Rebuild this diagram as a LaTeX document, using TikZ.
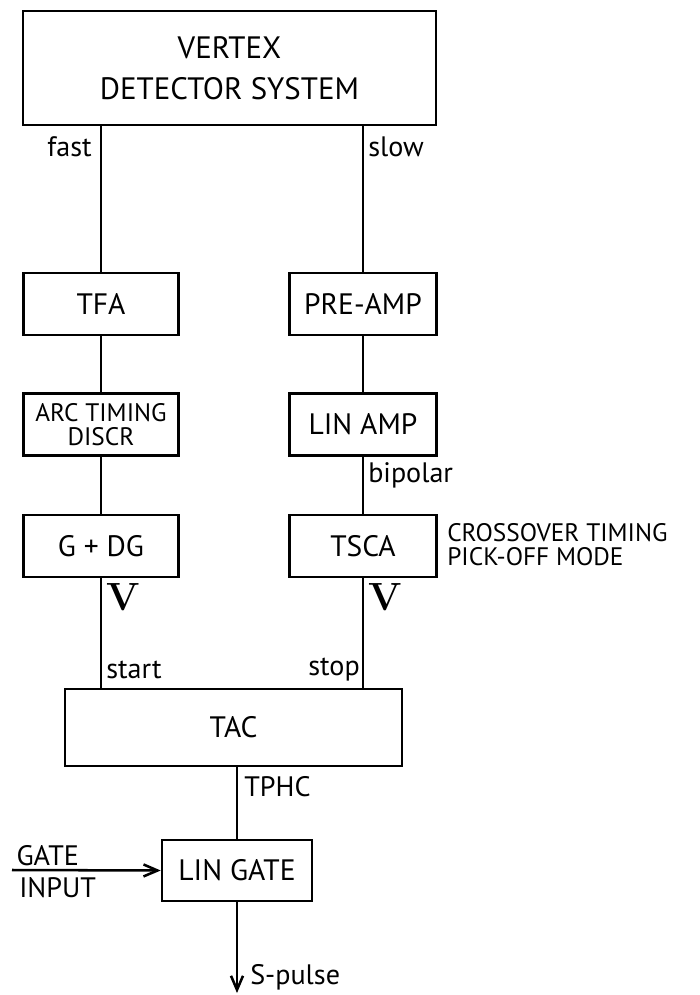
\documentclass[tikz,border=0pt]{standalone}
\usepackage{fontspec}
\setsansfont{PT Sans}
\usepackage{tikz}
\usetikzlibrary{arrows.meta, positioning}

\begin{document}
\begin{tikzpicture}[
    x=0.025cm, y=-0.025cm,
    box/.style={rectangle, draw, line width=1.8pt, inner sep=0pt, align=center,
        font=\sffamily\fontsize{21}{24}\selectfont},
    lbox/.style={box, minimum width=3.875cm, minimum height=1.55cm},
    rbox/.style={box, minimum width=3.675cm, minimum height=1.55cm},
    wire/.style={line width=1.8pt},
    arrow/.style={-{Straight Barb[length=3.5mm, width=3mm]}, line width=1.8pt},
    label/.style={inner sep=0pt, font=\sffamily\fontsize{20}{22}\selectfont},
    pulse/.style={inner sep=0pt, font=\rmfamily\bfseries\fontsize{28}{28}\selectfont}
]
\useasboundingbox (0,0) rectangle (699,995);

% Detector (top)
\node[box, minimum width=10.325cm, minimum height=2.85cm,
      font=\sffamily\fontsize{22}{29}\selectfont] (vds) at (229.5, 68) {VERTEX\\DETECTOR SYSTEM};

% Fast branch (left)
\node[lbox] (tfa) at (101, 304) {TFA};
\node[lbox, font=\sffamily\fontsize{18}{17}\selectfont] (arc) at (101, 424.5) {ARC TIMING\\DISCR};
\node[lbox] (gdg) at (101, 546) {G + DG};

% Slow branch (right)
\node[rbox] (preamp) at (363, 304) {PRE-AMP};
\node[rbox] (linamp) at (363, 424.5) {LIN AMP};
\node[rbox] (tsca) at (363, 546) {TSCA};

% TAC and gate
\node[box, minimum width=8.425cm, minimum height=1.925cm] (tac) at (233.5, 727.5) {TAC};
\node[box, minimum width=3.75cm, minimum height=1.525cm] (lingate) at (237, 870.5) {LIN GATE};

% Connections
\draw[wire] (vds.south -| tfa.north) -- (tfa.north);
\draw[wire] (tfa) -- (arc);
\draw[wire] (arc) -- (gdg);
\draw[wire] (gdg.south) -- (gdg.south |- tac.north);
\draw[wire] (vds.south -| preamp.north) -- (preamp.north);
\draw[wire] (preamp) -- (linamp);
\draw[wire] (linamp) -- (tsca);
\draw[wire] (tsca.south) -- (tsca.south |- tac.north);
\draw[wire] (tac.south -| lingate.north) -- (lingate.north);

% Gate input and output
\coordinate (gatein) at (12, 870);
\coordinate (sout) at (237, 993);
\draw[arrow] (gatein) -- (lingate.west);
\draw[arrow] (lingate.south) -- (sout);

% Labels
\node[label, anchor=east] (fast) at (92, 147) {fast};
\node[label, anchor=west] (slow) at (368, 147) {slow};
\node[label, anchor=west] (bipolar) at (368, 475) {bipolar};
\node[label, anchor=west, align=left, font=\sffamily\fontsize{18}{17}\selectfont] (xover) at (447, 545) {CROSSOVER TIMING\\PICK-OFF MODE};
\node[pulse, anchor=west] (vleft) at (106, 597) {V};
\node[pulse, anchor=west] (vright) at (368, 597) {V};
\node[label, anchor=west] (start) at (106, 670) {start};
\node[label, anchor=east] (stop) at (360, 670) {stop};
\node[label, anchor=west] (tphc) at (244, 787) {TPHC};
\node[label, anchor=south west, inner sep=3pt] (gate) at (gatein) {GATE};
\node[label, anchor=north west, inner sep=5pt] (input) at (gatein) {INPUT};
\node[label, anchor=west] (spulse) at (250, 977) {S-pulse};

\end{tikzpicture}
\end{document}
